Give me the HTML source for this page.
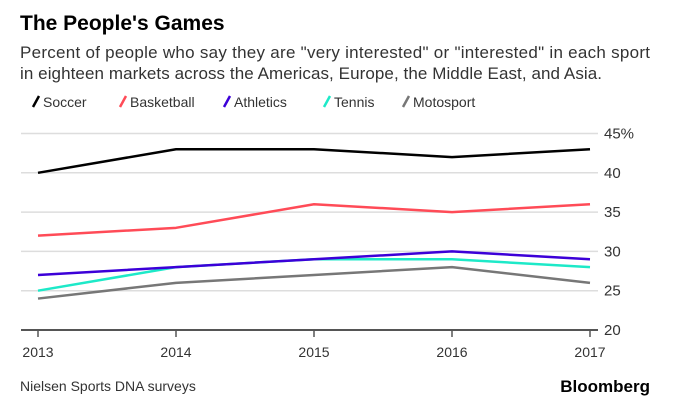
<!DOCTYPE html>
<html><head><meta charset="utf-8"><style>
body{margin:0;width:700px;height:413px;background:#fff;font-family:"Liberation Sans",sans-serif;overflow:hidden}
svg text{font-family:"Liberation Sans",sans-serif}
</style></head><body>
<svg width="700" height="413">
<text x="20" y="30" font-size="21" font-weight="bold" fill="#000">The People's Games</text>
<text x="20" y="58" font-size="17" fill="#333" textLength="630">Percent of people who say they are "very interested" or "interested" in each sport</text>
<text x="20" y="79" font-size="17" fill="#333" textLength="582">in eighteen markets across the Americas, Europe, the Middle East, and Asia.</text>
<g id="legend"></g>
<g id="grid"></g>
<g id="series"></g>
<text x="20" y="391" font-size="14" fill="#333">Nielsen Sports DNA surveys</text>
<text x="650" y="392" font-size="17" font-weight="bold" fill="#000" text-anchor="end">Bloomberg</text>
</svg>
<script>
const years=[2013,2014,2015,2016,2017];
const seriesNames=["Soccer","Basketball","Athletics","Tennis","Motosport"];
const soccer=[40,43,43,42,43];
const basketball=[32,33,36,35,36];
const athletics=[27,28,29,30,29];
const tennis=[25,28,29,29,28];
const motosport=[24,26,27,28,26];
const yTicks=[20,25,30,35,40,45];
const colors=["#000000","#ff4b57","#3c00d8","#1de9c8","#777777"];
const NS="http://www.w3.org/2000/svg";
const x=i=>38+i*(590-38)/(years.length-1);
const y=v=>330-(v-20)*(330-133.5)/25;
function mk(t,a,p){const e=document.createElementNS(NS,t);for(const k in a)e.setAttribute(k,a[k]);p.appendChild(e);return e;}
const grid=document.getElementById('grid');
yTicks.forEach(t=>{
  const l=mk('line',{x1:21,x2:598,y1:y(t),y2:y(t),stroke:t===20?'#555':'#ddd','stroke-width':t===20?2:1.5},grid);
  
  
  const tx=mk('text',{x:604,y:y(t)+5,'font-size':15,fill:'#333'},grid);
  tx.textContent=t===45?'45%':String(t);
  
  
});
years.forEach((yr,i)=>{
  const tk=mk('line',{x1:x(i),x2:x(i),y1:330,y2:337,stroke:'#555','stroke-width':1.5},grid);
  
  
  const tx=mk('text',{x:x(i),y:357,'font-size':14,fill:'#333','text-anchor':'middle'},grid);
  tx.textContent=yr;
  
  
});
const data=[soccer,basketball,athletics,tennis,motosport];
const sg=document.getElementById('series');
[4,3,2,1,0].forEach(s=>{
  const p=mk('polyline',{points:data[s].map((v,i)=>x(i)+','+y(v)).join(' '),fill:'none',stroke:colors[s],'stroke-width':2.5,'stroke-linejoin':'round'},sg);
  
  
});
const lg=document.getElementById('legend');
const lx=[33,120,224,324,403];
seriesNames.forEach((n,s)=>{
  const g=mk('g',{},lg);
  
  
  mk('line',{x1:lx[s],y1:107,x2:lx[s]+6,y2:96,stroke:colors[s],'stroke-width':2.5},g);
  const t=mk('text',{x:lx[s]+10,y:107,'font-size':14,fill:'#333'},g);
  t.textContent=n;
});
</script>
</body></html>
